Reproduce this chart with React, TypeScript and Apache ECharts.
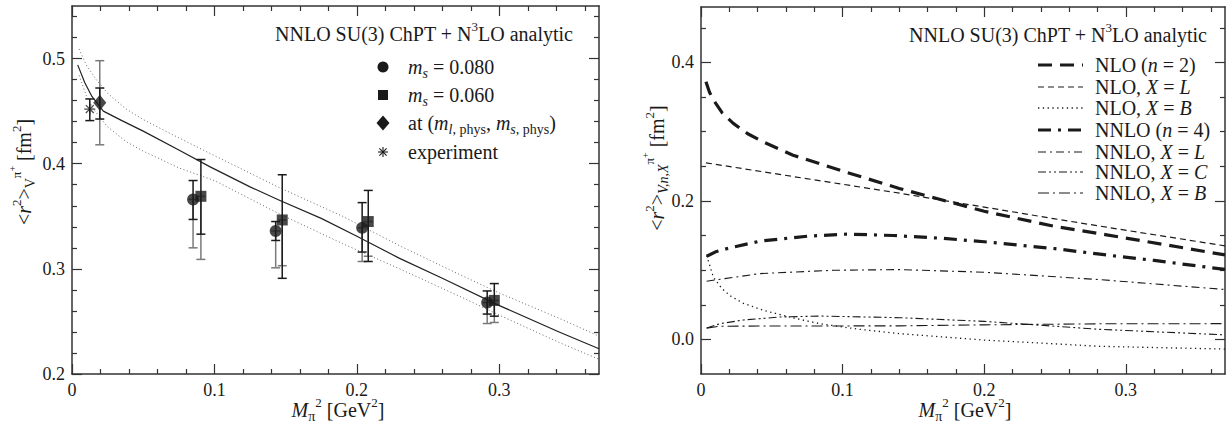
import React, { useEffect, useRef } from 'react';
import * as echarts from 'echarts';

// ---------- data: left panel ----------
const leftXTicks = [0, 0.1, 0.2, 0.3];
const leftXMinor = [0.02, 0.04, 0.06, 0.08, 0.12, 0.14, 0.16, 0.18, 0.22, 0.24, 0.26, 0.28, 0.32, 0.34, 0.36];
const leftYTicks = [0.2, 0.3, 0.4, 0.5];
const leftYMinor = [0.22, 0.24, 0.26, 0.28, 0.32, 0.34, 0.36, 0.38, 0.42, 0.44, 0.46, 0.48, 0.52, 0.54];

const fitX = [0.004, 0.009, 0.014, 0.022, 0.035, 0.05, 0.075, 0.097, 0.125, 0.146, 0.175, 0.2, 0.23, 0.26, 0.2985, 0.342, 0.37];
const fitCentral = [0.494, 0.477, 0.464, 0.45, 0.441, 0.431, 0.413, 0.397, 0.378, 0.365, 0.348, 0.331, 0.31, 0.291, 0.266, 0.24, 0.224];
const bandUpperX = [0.005, 0.01, 0.017, 0.025, 0.038, 0.05, 0.07, 0.101, 0.146, 0.19, 0.23, 0.27, 0.3, 0.342, 0.37];
const bandUpper = [0.509, 0.494, 0.48, 0.467, 0.452, 0.442, 0.428, 0.407, 0.377, 0.35, 0.322, 0.296, 0.277, 0.253, 0.236];
const bandLowerX = [0.005, 0.01, 0.015, 0.025, 0.038, 0.05, 0.075, 0.1, 0.146, 0.19, 0.23, 0.272, 0.3, 0.342, 0.37];
const bandLower = [0.484, 0.465, 0.452, 0.435, 0.421, 0.412, 0.396, 0.384, 0.352, 0.324, 0.3, 0.274, 0.256, 0.23, 0.214];

const ms080X = [0.085, 0.143, 0.2037, 0.2915];
const ms080Y = [0.366, 0.336, 0.339, 0.268];
const ms080StatLo = [0.347, 0.327, 0.316, 0.257];
const ms080StatHi = [0.384, 0.345, 0.363, 0.279];
const ms080SysLo = [0.32, 0.301, 0.307, 0.248];

const ms060X = [0.0905, 0.1476, 0.208, 0.2965];
const ms060Y = [0.369, 0.3465, 0.345, 0.27];
const ms060StatLo = [0.333, 0.291, 0.307, 0.255];
const ms060StatHi = [0.404, 0.3895, 0.3746, 0.286];
const ms060SysLo = [0.309, 0.303, 0.312, 0.249];

const physX = [0.0195];
const physY = [0.458];
const physStatLo = [0.4425];
const physStatHi = [0.472];
const physTotLo = [0.418];
const physTotHi = [0.498];

const expX = [0.0125];
const expY = [0.452];
const expLo = [0.441];
const expHi = [0.4616];

// ---------- data: right panel ----------
const rightXTicks = [0, 0.1, 0.2, 0.3];
const rightXMinor = [0.02, 0.04, 0.06, 0.08, 0.12, 0.14, 0.16, 0.18, 0.22, 0.24, 0.26, 0.28, 0.32, 0.34, 0.36];
const rightYTicks = [0, 0.2, 0.4];
const rightYMinor = [0.05, 0.1, 0.15, 0.25, 0.3, 0.35, 0.45];

const nloX = [0.0035, 0.006, 0.0087, 0.015, 0.0228, 0.033, 0.044, 0.065, 0.1, 0.14, 0.2, 0.25, 0.2864, 0.37];
const nloY = [0.372, 0.357, 0.346, 0.327, 0.312, 0.297, 0.285, 0.266, 0.243, 0.218, 0.185, 0.163, 0.151, 0.122];
const nloLX = [0.0035, 0.05, 0.1, 0.1405, 0.2, 0.25, 0.2864, 0.37];
const nloLY = [0.255, 0.24, 0.224, 0.211, 0.191, 0.174, 0.162, 0.135];
const nloBX = [0.004, 0.0087, 0.0145, 0.0205, 0.03, 0.044, 0.065, 0.084, 0.11, 0.1405, 0.2, 0.2816, 0.37];
const nloBY = [0.121, 0.09, 0.074, 0.063, 0.052, 0.042, 0.031, 0.0227, 0.015, 0.0082, -0.001, -0.01, -0.014];
const nnloX = [0.004, 0.011, 0.02, 0.042, 0.075, 0.103, 0.136, 0.17, 0.2, 0.25, 0.2816, 0.32, 0.37];
const nnloY = [0.12, 0.127, 0.132, 0.142, 0.149, 0.152, 0.15, 0.146, 0.141, 0.131, 0.123, 0.114, 0.101];
const nnloLX = [0.004, 0.0416, 0.0934, 0.1405, 0.2, 0.2816, 0.37];
const nnloLY = [0.084, 0.095, 0.0998, 0.1008, 0.097, 0.0863, 0.072];
const nnloCX = [0.004, 0.0134, 0.03, 0.0558, 0.084, 0.1405, 0.2, 0.2816, 0.37];
const nnloCY = [0.0163, 0.0227, 0.028, 0.0323, 0.0337, 0.0313, 0.026, 0.0145, 0.0065];
const nnloBX = [0.004, 0.0134, 0.05, 0.1405, 0.2, 0.2816, 0.37];
const nnloBY = [0.0163, 0.019, 0.0193, 0.0195, 0.021, 0.0225, 0.0227];

// ---------- style ----------
const FONT = 'Liberation Serif, serif';
const INK = '#1a1a1a';
const AXIS = '#333';
const GRAY = '#7a7a7a';

const pairs = (xs: number[], ys: number[]) => xs.map((x, i) => [x, ys[i]]);

function axesFor(gi: number, dim: 'x' | 'y', min: number, max: number, majors: number[], minors: number[], fmt: (v: number) => string) {
  const posA = dim === 'x' ? 'bottom' : 'left';
  const posB = dim === 'x' ? 'top' : 'right';
  const common: any = { type: 'value', gridIndex: gi, min, max, splitLine: { show: false } };
  const tickStyle = { color: AXIS, width: 1.2 };
  const major = (pos: string, labels: boolean) => ({
    ...common,
    position: pos,
    axisLine: { show: true, onZero: false, lineStyle: { color: AXIS, width: 1.5 } },
    axisTick: { show: true, inside: true, length: 10, customValues: majors, lineStyle: tickStyle },
    axisLabel: {
      show: labels, customValues: majors, formatter: fmt,
      fontFamily: FONT, fontSize: 18, color: INK, margin: 7,
    },
  });
  const minor = (pos: string) => ({
    ...common,
    position: pos,
    axisLine: { show: false, onZero: false },
    axisTick: { show: true, inside: true, length: 5, customValues: minors, lineStyle: tickStyle },
    axisLabel: { show: false },
  });
  return [major(posA, true), minor(posA), major(posB, false), minor(posB)];
}

const fmtX = (v: number) => (Math.abs(v) < 1e-9 ? '0' : v.toFixed(1));
const fmtY = (v: number) => v.toFixed(1);

const rich = (size: number) => ({
  n: { fontFamily: FONT, fontSize: size, color: INK },
  i: { fontFamily: FONT, fontSize: size, fontStyle: 'italic', color: INK },
  sub: { fontFamily: FONT, fontSize: Math.round(size * 0.7), color: INK, padding: [Math.round(size * 0.6), 0, 0, 0] },
  subi: { fontFamily: FONT, fontSize: Math.round(size * 0.7), fontStyle: 'italic', color: INK, padding: [Math.round(size * 0.6), 0, 0, 0] },
  sup: { fontFamily: FONT, fontSize: Math.round(size * 0.65), color: INK, padding: [0, 0, Math.round(size * 0.75), 0] },
  supsup: { fontFamily: FONT, fontSize: Math.round(size * 0.5), color: INK, padding: [0, 0, Math.round(size * 1.2), 0] },
});

function txt(x: number, y: number, text: string, size: number, align = 'left', rotation = 0) {
  return {
    type: 'text', x, y, rotation, z: 100,
    style: { text, rich: rich(size), fontFamily: FONT, fontSize: size, fill: INK, align, verticalAlign: 'middle' },
  };
}

function errorSeries(xs: number[], lo: number[], hi: number[], color: string, xi: number, yi: number, z: number) {
  return {
    type: 'custom', xAxisIndex: xi, yAxisIndex: yi, z, silent: true,
    data: xs.map((x, i) => [x, lo[i], hi[i]]),
    encode: { x: 0, y: [1, 2] },
    renderItem: (_p: any, api: any) => {
      const x = api.value(0);
      const a = api.coord([x, api.value(1)]);
      const b = api.coord([x, api.value(2)]);
      const w = 4.5;
      const st = { stroke: color, lineWidth: 1.5 };
      return {
        type: 'group',
        children: [
          { type: 'line', shape: { x1: a[0], y1: a[1], x2: b[0], y2: b[1] }, style: st },
          { type: 'line', shape: { x1: a[0] - w, y1: a[1], x2: a[0] + w, y2: a[1] }, style: st },
          { type: 'line', shape: { x1: b[0] - w, y1: b[1], x2: b[0] + w, y2: b[1] }, style: st },
        ],
      };
    },
  };
}

const line = (data: number[][], xi: number, yi: number, color: string, width: number, type: any) => ({
  type: 'line', xAxisIndex: xi, yAxisIndex: yi, data, showSymbol: false, symbol: 'none',
  smooth: false, clip: true, silent: true,
  lineStyle: { color, width, type, cap: 'butt', join: 'round' }, z: 3,
});

const STAR = 'path://M0,-5L0,5M-5,0L5,0M-3.6,-3.6L3.6,3.6M-3.6,3.6L3.6,-3.6';

const rightStyles: any[] = [
  { w: 3.2, d: [14, 8] },
  { w: 1.2, d: [6, 4] },
  { w: 1.3, d: [1.3, 3.5] },
  { w: 3.2, d: [13, 7, 3, 7] },
  { w: 1.1, d: [8, 4, 2, 4] },
  { w: 1.1, d: [8, 3, 2, 3, 2, 3] },
  { w: 1.1, d: [11, 4, 2, 4] },
];
const rightLabels = [
  '{n|NLO (}{i|n}{n| = 2)}',
  '{n|NLO, }{i|X}{n| = }{i|L}',
  '{n|NLO, }{i|X}{n| = }{i|B}',
  '{n|NNLO (}{i|n}{n| = 4)}',
  '{n|NNLO, }{i|X}{n| = }{i|L}',
  '{n|NNLO, }{i|X}{n| = }{i|C}',
  '{n|NNLO, }{i|X}{n| = }{i|B}',
];
const rightRows = [65, 87, 108, 130, 152, 172, 193];

function buildOption() {
  const xAxis = [
    ...axesFor(0, 'x', 0, 0.37, leftXTicks, leftXMinor, fmtX),
    ...axesFor(1, 'x', 0, 0.37, rightXTicks, rightXMinor, fmtX),
  ];
  const yAxis = [
    ...axesFor(0, 'y', 0.2, 0.55, leftYTicks, leftYMinor, fmtY),
    ...axesFor(1, 'y', -0.05, 0.48, rightYTicks, rightYMinor, fmtY),
  ];

  const series: any[] = [
    line(pairs(fitX, fitCentral), 0, 0, '#222', 1.2, 'solid'),
    line(pairs(bandUpperX, bandUpper), 0, 0, '#666', 1, [1, 2.5]),
    line(pairs(bandLowerX, bandLower), 0, 0, '#666', 1, [1, 2.5]),
    errorSeries(ms080X, ms080SysLo, ms080Y, GRAY, 0, 0, 4),
    errorSeries(ms060X, ms060SysLo, ms060Y, GRAY, 0, 0, 4),
    errorSeries(physX, physTotLo, physTotHi, GRAY, 0, 0, 4),
    errorSeries(ms080X, ms080StatLo, ms080StatHi, INK, 0, 0, 5),
    errorSeries(ms060X, ms060StatLo, ms060StatHi, INK, 0, 0, 5),
    errorSeries(physX, physStatLo, physStatHi, INK, 0, 0, 5),
    errorSeries(expX, expLo, expHi, INK, 0, 0, 5),
    { type: 'scatter', xAxisIndex: 0, yAxisIndex: 0, data: pairs(ms080X, ms080Y), symbol: 'circle', symbolSize: 12, itemStyle: { color: INK }, z: 6, silent: true },
    { type: 'scatter', xAxisIndex: 0, yAxisIndex: 0, data: pairs(ms060X, ms060Y), symbol: 'rect', symbolSize: 11, itemStyle: { color: INK }, z: 6, silent: true },
    { type: 'scatter', xAxisIndex: 0, yAxisIndex: 0, data: pairs(physX, physY), symbol: 'diamond', symbolSize: [13, 16], itemStyle: { color: INK }, z: 6, silent: true },
    { type: 'scatter', xAxisIndex: 0, yAxisIndex: 0, data: pairs(expX, expY), symbol: STAR, symbolSize: 11, itemStyle: { color: 'transparent', borderColor: INK, borderWidth: 1.2 }, z: 6, silent: true },
  ];
  const rightData = [pairs(nloX, nloY), pairs(nloLX, nloLY), pairs(nloBX, nloBY), pairs(nnloX, nnloY), pairs(nnloLX, nnloLY), pairs(nnloCX, nnloCY), pairs(nnloBX, nnloBY)];
  rightData.forEach((d, k) => series.push(line(d, 4, 4, INK, rightStyles[k].w, rightStyles[k].d)));

  const graphic: any[] = [];
  graphic.push(txt(573, 34, '{n|NNLO SU(3) ChPT + N}{sup|3}{n|LO analytic}', 20, 'right'));
  graphic.push(txt(1207, 35, '{n|NNLO SU(3) ChPT + N}{sup|3}{n|LO analytic}', 20, 'right'));
  graphic.push(txt(338, 410, '{i|M}{sub|π}{sup|2}{n| [GeV}{sup|2}{n|]}', 20, 'center'));
  graphic.push(txt(965, 410, '{i|M}{sub|π}{sup|2}{n| [GeV}{sup|2}{n|]}', 20, 'center'));
  graphic.push(txt(24, 172, '{n|<}{i|r}{sup|2}{n|>}{sub|V}{sup|π}{supsup|+}{n| [fm}{sup|2}{n|]}', 20, 'center', Math.PI / 2));
  graphic.push(txt(657, 168, '{n|<}{i|r}{sup|2}{n|>}{subi|V,n,X}{sup|π}{supsup|+}{n| [fm}{sup|2}{n|]}', 20, 'center', Math.PI / 2));

  const lx = 383;
  const rows = [67, 95, 123, 152];
  graphic.push({ type: 'circle', shape: { cx: lx, cy: rows[0], r: 5.5 }, style: { fill: INK }, z: 100 });
  graphic.push({ type: 'rect', shape: { x: lx - 5, y: rows[1] - 5, width: 10, height: 10 }, style: { fill: INK }, z: 100 });
  graphic.push({ type: 'polygon', shape: { points: [[lx, rows[2] - 7.5], [lx + 6.5, rows[2]], [lx, rows[2] + 7.5], [lx - 6.5, rows[2]]] }, style: { fill: INK }, z: 100 });
  const s = 5, d = 3.6, cy = rows[3];
  [[0, -s, 0, s], [-s, 0, s, 0], [-d, -d, d, d], [-d, d, d, -d]].forEach(([a, b, c, e]) =>
    graphic.push({ type: 'line', shape: { x1: lx + a, y1: cy + b, x2: lx + c, y2: cy + e }, style: { stroke: INK, lineWidth: 1.1 }, z: 100 }));
  graphic.push(txt(408, rows[0], '{i|m}{subi|s}{n| = 0.080}', 20));
  graphic.push(txt(408, rows[1], '{i|m}{subi|s}{n| = 0.060}', 20));
  graphic.push(txt(408, rows[2], '{n|at (}{i|m}{subi|l}{sub|, phys}{n|, }{i|m}{subi|s}{sub|, phys}{n|)}', 20));
  graphic.push(txt(408, rows[3], '{n|experiment}', 20));

  rightRows.forEach((y, k) => {
    graphic.push({ type: 'line', shape: { x1: 1038, y1: y, x2: 1083, y2: y }, style: { stroke: INK, lineWidth: rightStyles[k].w, lineDash: rightStyles[k].d }, z: 100 });
    graphic.push(txt(1095, y, rightLabels[k], 20));
  });

  return {
    animation: false,
    backgroundColor: '#ffffff',
    textStyle: { fontFamily: FONT },
    grid: [
      { left: 72, top: 6, width: 527, height: 368 },
      { left: 701, top: 7, width: 524, height: 367 },
    ],
    xAxis, yAxis, series, graphic,
  };
}

export default function App() {
  const ref = useRef<HTMLDivElement>(null);
  useEffect(() => {
    const chart = echarts.init(ref.current!, null, { renderer: 'svg', width: 1228, height: 430 });
    chart.setOption(buildOption() as any);
    return () => chart.dispose();
  }, []);
  return <div ref={ref} style={{ position: 'fixed', left: 0, top: 0, width: 1228, height: 430, background: '#fff' }} />;
}
